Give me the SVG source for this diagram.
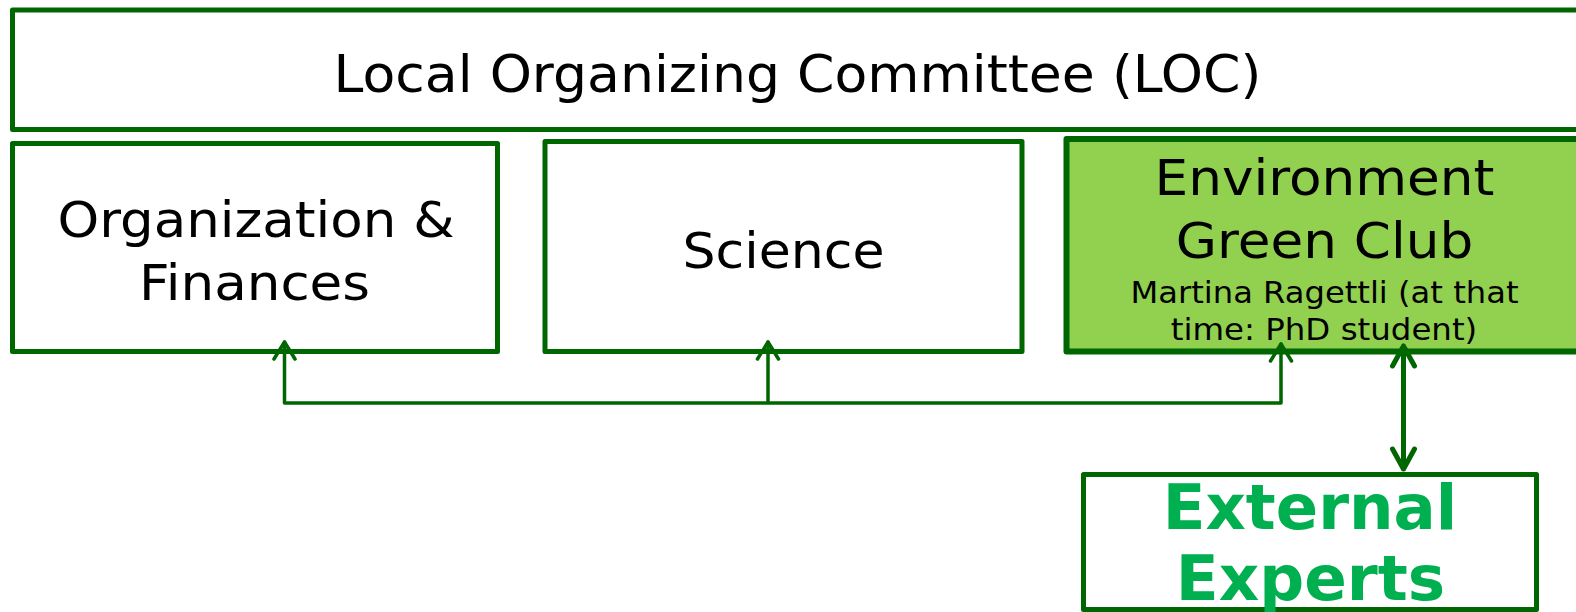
<svg xmlns="http://www.w3.org/2000/svg" width="1576" height="612" viewBox="0 0 1576 612">
<defs>
<style>
.box{fill:#ffffff;stroke:#006600;stroke-width:5;stroke-linejoin:round}
.green{fill:#92d050;stroke:#006600;stroke-width:6;stroke-linejoin:round}
.t{font-family:"DejaVu Sans",Verdana,sans-serif;fill:#000;text-anchor:middle}
.ext{font-family:"DejaVu Sans",Verdana,sans-serif;font-weight:bold;fill:#00b050;text-anchor:middle}
.ln{fill:none;stroke:#006600;stroke-width:3.5;stroke-linecap:round;stroke-linejoin:round}
.ln2{fill:none;stroke:#006600;stroke-width:5;stroke-linecap:round;stroke-linejoin:round}
</style>
</defs>
<g id="loc">
<rect class="box" x="12.5" y="10" width="1600" height="119.5"/>
<text class="t" x="797.5" y="92" font-size="51" textLength="928" lengthAdjust="spacingAndGlyphs">Local Organizing Committee (LOC)</text>
</g>
<g id="org">
<rect class="box" x="12.5" y="143.5" width="485" height="208"/>
<text class="t" x="256" y="237" font-size="49" textLength="397" lengthAdjust="spacingAndGlyphs">Organization &amp;</text>
<text class="t" x="254.5" y="300" font-size="49" textLength="231" lengthAdjust="spacingAndGlyphs">Finances</text>
</g>
<g id="science">
<rect class="box" x="545" y="141.5" width="477" height="210"/>
<text class="t" x="783.5" y="268" font-size="49" textLength="202" lengthAdjust="spacingAndGlyphs">Science</text>
</g>
<g id="env">
<rect class="green" x="1066.5" y="139" width="560" height="212.5"/>
<text class="t" x="1324.5" y="195" font-size="49" textLength="340" lengthAdjust="spacingAndGlyphs">Environment</text>
<text class="t" x="1324.5" y="258" font-size="49" textLength="297.5" lengthAdjust="spacingAndGlyphs">Green Club</text>
<text class="t" x="1324.5" y="303" font-size="29.5" textLength="388" lengthAdjust="spacingAndGlyphs">Martina Ragettli (at that</text>
<text class="t" x="1324" y="340" font-size="29.5" textLength="306.5" lengthAdjust="spacingAndGlyphs">time: PhD student)</text>
</g>
<g id="external">
<rect class="box" x="1083.5" y="474.5" width="453" height="135"/>
<text class="ext" x="1310" y="529" font-size="62" textLength="294.5" lengthAdjust="spacingAndGlyphs">External</text>
<text class="ext" x="1310.5" y="600" font-size="62" textLength="269.5" lengthAdjust="spacingAndGlyphs">Experts</text>
</g>
<g id="connectors">
<path class="ln" d="M284.5,403 H1281 M284.5,403 V342 M768,403 V342 M1281,403 V344"/>
<path class="ln" d="M274,359 L284.5,342 L295,359 M757.5,359 L768,342 L778.5,359 M1270.5,361 L1281,344 L1291.5,361"/>
<path class="ln2" d="M1403.5,346 V469 M1392.5,366 L1403.5,346 L1414.5,366 M1392.5,449 L1403.5,469 L1414.5,449"/>
</g>
</svg>
